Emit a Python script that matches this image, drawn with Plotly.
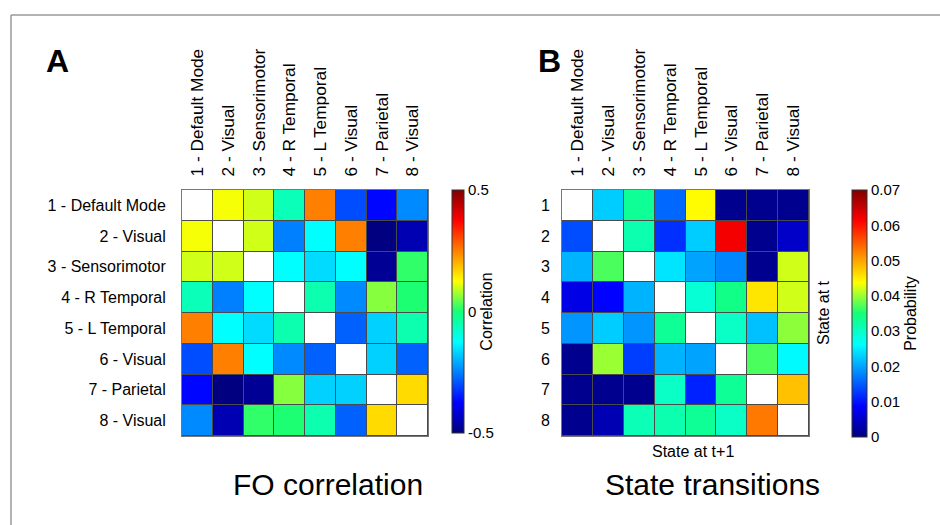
import plotly.graph_objects as go

# ---------------- data ----------------
regions = ["1 - Default Mode", "2 - Visual", "3 - Sensorimotor", "4 - R Temporal",
           "5 - L Temporal", "6 - Visual", "7 - Parietal", "8 - Visual"]
states = ["1", "2", "3", "4", "5", "6", "7", "8"]
idx = [1, 2, 3, 4, 5, 6, 7, 8]

# FO correlation (diagonal left empty)
corr = [
    [None, 0.12, 0.10, -0.06, 0.25, -0.30, -0.37, -0.24],
    [0.12, None, 0.10, -0.25, -0.125, 0.25, -0.50, -0.45],
    [0.10, 0.10, None, -0.125, -0.16, -0.125, -0.48, 0.015],
    [-0.06, -0.25, -0.125, None, -0.05, -0.24, 0.06, 0.005],
    [0.25, -0.125, -0.16, -0.05, None, -0.28, -0.17, -0.05],
    [-0.30, 0.25, -0.125, -0.24, -0.28, None, -0.17, -0.28],
    [-0.37, -0.50, -0.48, 0.06, -0.17, -0.17, None, 0.16],
    [-0.24, -0.45, 0.015, 0.005, -0.05, -0.28, 0.16, None],
]

# State transition probabilities (rows: state at t, cols: state at t+1)
trans = [
    [None, 0.0228, 0.0330, 0.0158, 0.0440, 0.0010, 0.0010, 0.0010],
    [0.0140, None, 0.0315, 0.0120, 0.0228, 0.0620, 0.0010, 0.0050],
    [0.0210, 0.0370, None, 0.0245, 0.0200, 0.0180, 0.0010, 0.0420],
    [0.0070, 0.0088, 0.0210, None, 0.0290, 0.0340, 0.0455, 0.0420],
    [0.0190, 0.0228, 0.0190, 0.0330, None, 0.0300, 0.0220, 0.0395],
    [0.0010, 0.0400, 0.0130, 0.0210, 0.0200, None, 0.0370, 0.0260],
    [0.0010, 0.0010, 0.0010, 0.0300, 0.0110, 0.0330, None, 0.0480],
    [0.0010, 0.0035, 0.0310, 0.0315, 0.0330, 0.0300, 0.0530, None],
]

corr_ticks = [-0.5, 0, 0.5]
corr_ticktext = ["-0.5", "0", "0.5"]
prob_ticks = [0, 0.01, 0.02, 0.03, 0.04, 0.05, 0.06, 0.07]
prob_ticktext = ["0", "0.01", "0.02", "0.03", "0.04", "0.05", "0.06", "0.07"]

# ---------------- styling ----------------
W, H = 940, 525
FONT = "Liberation Sans, Arial, sans-serif"
jet = [[0, "#000080"], [0.125, "#0000ff"], [0.375, "#00ffff"],
       [0.5, "rgb(20,255,120)"],
       [0.625, "#ffff00"], [0.875, "#ff0000"], [1, "#800000"]]
white = [[0, "white"], [1, "white"]]
diag = [[1 if i == j else None for j in range(8)] for i in range(8)]


def px(x):
    return x / W


def py(y):
    return 1 - y / H


fig = go.Figure()

fig.add_trace(go.Heatmap(
    z=corr, x=idx, y=idx, colorscale=jet, zmin=-0.5, zmax=0.5,
    xgap=1, ygap=1, xaxis="x", yaxis="y", hoverongaps=False,
    colorbar=dict(
        x=px(452), xanchor="left", y=py(190), yanchor="top",
        len=(433 - 190) / H, lenmode="fraction",
        thickness=12, thicknessmode="pixels", xpad=0, ypad=0,
        outlinecolor="#333", outlinewidth=1,
        tickvals=corr_ticks, ticktext=corr_ticktext, ticks="",
        tickfont=dict(family=FONT, size=15, color="black"),
        title=dict(text="Correlation", side="right",
                   font=dict(family=FONT, size=16, color="black")),
    ),
))
fig.add_trace(go.Heatmap(z=diag, x=idx, y=idx, colorscale=white, showscale=False,
                         xgap=1, ygap=1, xaxis="x", yaxis="y"))

fig.add_trace(go.Heatmap(
    z=trans, x=idx, y=idx, colorscale=jet, zmin=0, zmax=0.07,
    xgap=1, ygap=1, xaxis="x2", yaxis="y2",
    colorbar=dict(
        x=px(852), xanchor="left", y=py(190), yanchor="top",
        len=(437 - 190) / H, lenmode="fraction",
        thickness=15, thicknessmode="pixels", xpad=0, ypad=0,
        outlinecolor="#333", outlinewidth=1,
        tickvals=prob_ticks, ticktext=prob_ticktext, ticks="",
        tickfont=dict(family=FONT, size=15, color="black"),
        title=dict(text="Probability", side="right",
                   font=dict(family=FONT, size=16, color="black")),
    ),
))
fig.add_trace(go.Heatmap(z=diag, x=idx, y=idx, colorscale=white, showscale=False,
                         xgap=1, ygap=1, xaxis="x2", yaxis="y2"))

axis_common = dict(showgrid=False, zeroline=False, showline=True, mirror=True,
                   linecolor="#777", linewidth=1, ticks="",
                   tickmode="array", tickvals=idx)
xfont = dict(family=FONT, size=17.3, color="black")
yfont = dict(family=FONT, size=16, color="black")

fig.update_layout(
    width=W, height=H, margin=dict(l=0, r=0, t=0, b=0),
    paper_bgcolor="white", plot_bgcolor="#4a4a4a", showlegend=False,
    xaxis=dict(domain=[px(182), px(428)], anchor="y", side="top",
               range=[0.5, 8.5], ticktext=regions, tickangle=-90,
               ticklabelstandoff=9, tickfont=xfont, **axis_common),
    yaxis=dict(domain=[py(436), py(190)], anchor="x", range=[8.5, 0.5],
               ticktext=regions, ticklabelstandoff=12, tickfont=yfont, **axis_common),
    xaxis2=dict(domain=[px(562), px(809)], anchor="y2", side="top",
                range=[0.5, 8.5], ticktext=regions, tickangle=-90,
                ticklabelstandoff=9, tickfont=xfont, **axis_common),
    yaxis2=dict(domain=[py(436), py(190)], anchor="x2", range=[8.5, 0.5],
                ticktext=states, ticklabelstandoff=8, tickfont=yfont, **axis_common),
)

ann_font = dict(family=FONT, color="black")
annotations = [
    dict(text="<b>A</b>", x=px(57), y=py(61), font=dict(size=32, **ann_font)),
    dict(text="<b>B</b>", x=px(549), y=py(61), font=dict(size=32, **ann_font)),
    dict(text="FO correlation", x=px(328), y=py(484), font=dict(size=30, **ann_font)),
    dict(text="State transitions", x=px(712), y=py(484), font=dict(size=30, **ann_font)),
    dict(text="State at t+1", x=px(693), y=py(451), font=dict(size=16, **ann_font)),
    dict(text="State at t", x=px(823), y=py(313), textangle=-90,
         font=dict(size=16, **ann_font)),
]
for a in annotations:
    a.update(xref="paper", yref="paper", showarrow=False,
             xanchor="center", yanchor="middle")
fig.update_layout(annotations=annotations)

# outer frame (top and left edges visible)
fig.add_shape(type="line", xref="paper", yref="paper",
              x0=px(11), y0=py(15), x1=1, y1=py(15), line=dict(color="#999", width=1.5))
fig.add_shape(type="line", xref="paper", yref="paper",
              x0=px(11), y0=py(15), x1=px(11), y1=0, line=dict(color="#999", width=1.5))

fig.write_html("out.html")
